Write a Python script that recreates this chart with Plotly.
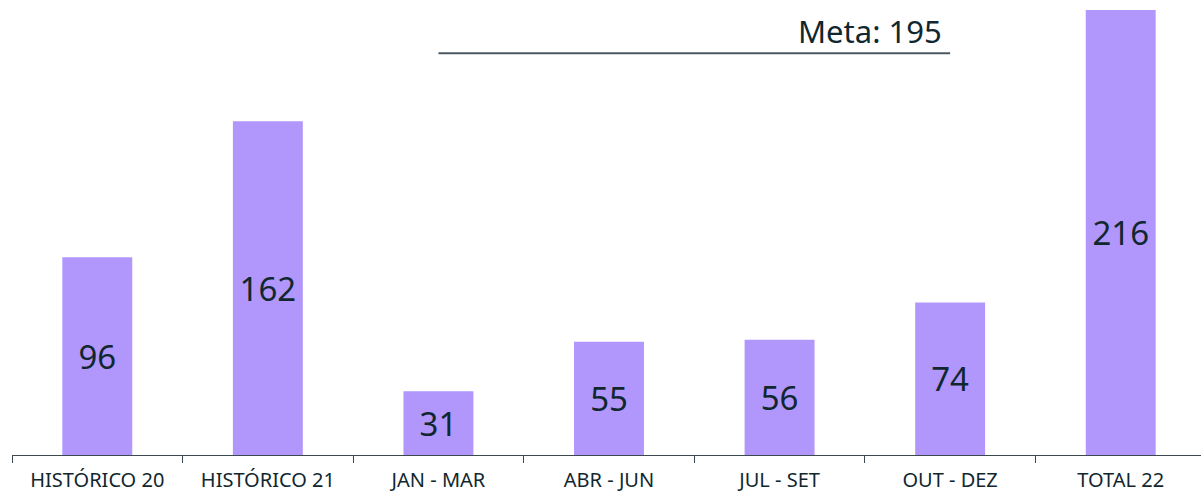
import plotly.graph_objects as go

categories = ["HISTÓRICO 20", "HISTÓRICO 21", "JAN - MAR", "ABR - JUN", "JUL - SET", "OUT - DEZ", "TOTAL 22"]
values = [96, 162, 31, 55, 56, 74, 216]
meta_value = 195
meta_label = "Meta: 195"
meta_start = "JAN - MAR"
meta_end = "OUT - DEZ"

text_color = "#10272f"
font_family = "Noto Sans, Open Sans, sans-serif"

fig = go.Figure()
fig.add_trace(go.Bar(
    x=categories, y=values, text=[str(v) for v in values],
    textposition="inside", insidetextanchor="middle", constraintext="none",
    textfont=dict(size=33, color=text_color, family=font_family),
    marker=dict(color="#b197fc", line=dict(width=0)),
    width=0.41, hoverinfo="skip",
))

x0 = categories.index(meta_start)
x1 = categories.index(meta_end)
fig.add_shape(type="line", xref="x", yref="y", x0=x0, x1=x1, y0=meta_value, y1=meta_value,
              line=dict(color="#4a5a60", width=2))
fig.add_annotation(x=x1 - 0.035, y=meta_value, xref="x", yref="y", text=meta_label,
                   showarrow=False, xanchor="right", yanchor="bottom", yshift=-1,
                   font=dict(size=31, color=text_color, family=font_family))

fig.update_layout(
    width=1206, height=493,
    margin=dict(l=12, r=0, t=10, b=38, autoexpand=False),
    plot_bgcolor="white", paper_bgcolor="white",
    showlegend=False,
    font=dict(family=font_family, color=text_color),
)
fig.update_xaxes(
    type="category", range=[-0.5, 6.5], showline=True, linecolor="#3c4a50", linewidth=1,
    ticks="outside", tickson="boundaries", ticklen=7, tickcolor="#3c4a50",
    ticklabelstandoff=7, automargin=False,
    tickfont=dict(size=20, color=text_color, family=font_family), showgrid=False,
)
fig.update_yaxes(range=[0, 216], visible=False, showgrid=False)

fig.write_html("out.html", config={"displayModeBar": False},
               post_script="document.body.style.margin='0';document.body.style.overflow='hidden';")
